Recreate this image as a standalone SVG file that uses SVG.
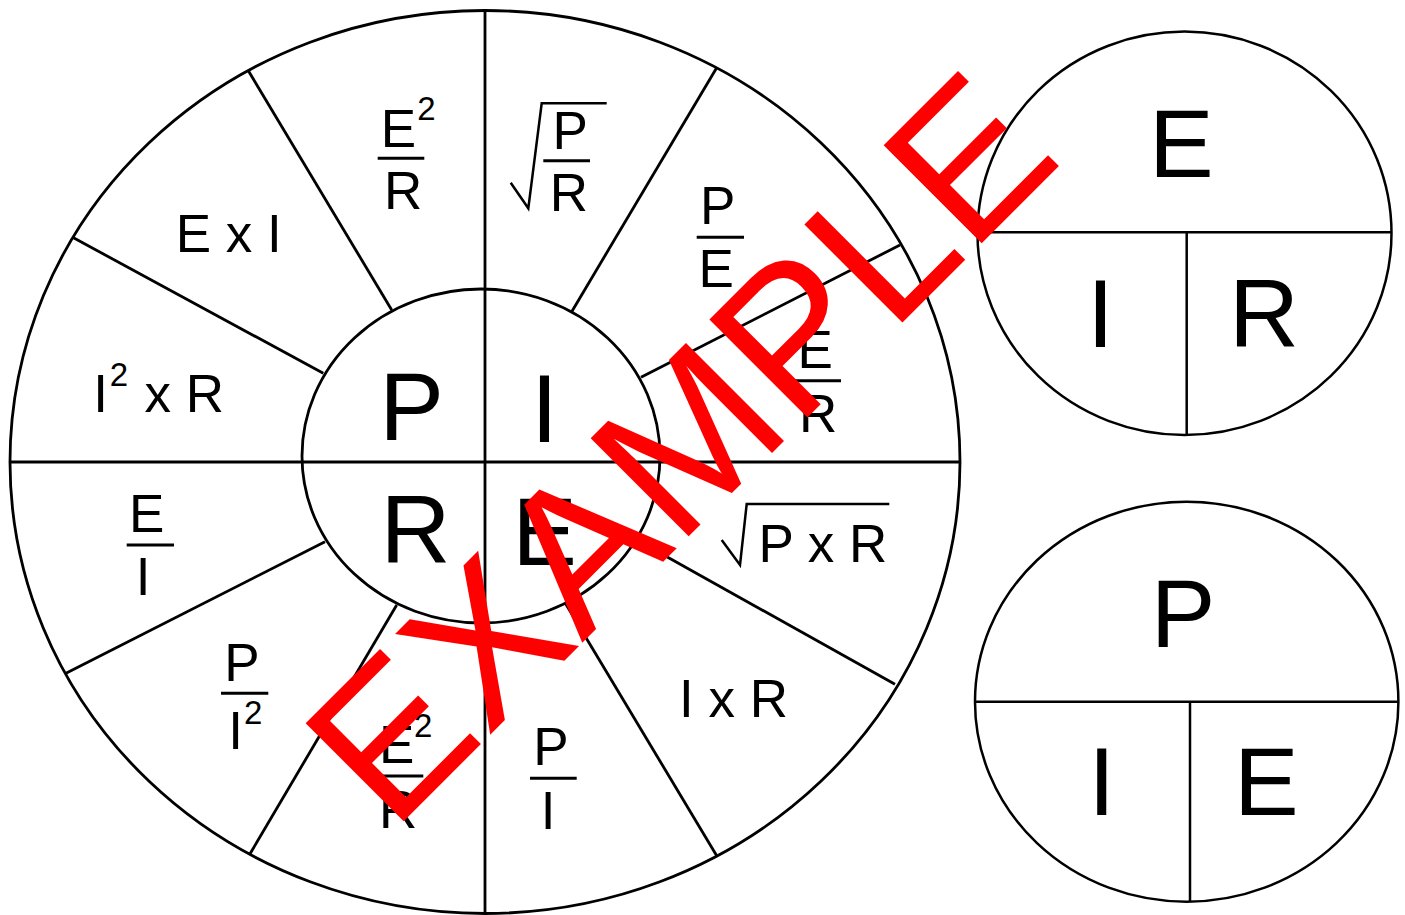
<svg xmlns="http://www.w3.org/2000/svg" width="1405" height="915" viewBox="0 0 1405 915">
<style>
.ln{fill:none;stroke:#000;stroke-width:2.8}
.sm{fill:none;stroke:#000;stroke-width:2.5}
.bar{stroke:#000;stroke-width:3}
.t{font-family:"Liberation Sans",Arial,sans-serif;fill:#000;font-size:53px}
.s{font-family:"Liberation Sans",Arial,sans-serif;fill:#000;font-size:33px}
.big{font-family:"Liberation Sans",Arial,sans-serif;fill:#000;font-size:97px}
.wm{font-family:"Liberation Sans",Arial,sans-serif;fill:#ff0000;font-size:201.5px}
</style>
<rect width="1405" height="915" fill="#fff"/>
<g id="wheel">
<ellipse class="ln" cx="485" cy="462" rx="475" ry="451.5"/>
<ellipse class="ln" cx="481" cy="456" rx="179" ry="167"/>
</g>
<g id="connectors">
<line class="ln" x1="485" y1="10" x2="485" y2="913"/>
<line class="ln" x1="10" y1="462" x2="960" y2="462"/>
<line class="ln" x1="391.7" y1="310" x2="248.5" y2="71"/>
<line class="ln" x1="323.3" y1="373.3" x2="73" y2="237.5"/>
<line class="ln" x1="325" y1="541.7" x2="66" y2="673.3"/>
<line class="ln" x1="396.7" y1="605" x2="249.3" y2="855"/>
<line class="ln" x1="571.7" y1="311.7" x2="716.7" y2="67.7"/>
<line class="ln" x1="641" y1="377.3" x2="900" y2="245"/>
<line class="ln" x1="636" y1="539.5" x2="895" y2="684.3"/>
<line class="ln" x1="565.5" y1="603.5" x2="717.3" y2="856.7"/>
</g>
<g id="center-P"><text class="big" x="379.2" y="440">P</text></g>
<g id="center-I"><text class="big" x="530.9" y="441.7">I</text></g>
<g id="center-R"><text class="big" x="380.5" y="563.3">R</text></g>
<g id="center-E"><text class="big" x="512.3" y="565">E</text></g>
<g id="f-E2-R-top">
<text class="t" x="380.8" y="146.7">E</text>
<text class="s" x="417.3" y="120">2</text>
<line class="bar" x1="377.7" y1="158.3" x2="424.3" y2="158.3"/>
<text class="t" x="384.1" y="209.3">R</text>
</g>
<g id="f-sqrt-P-R">
<polyline class="sm" points="510.7,182.7 528.3,208.3 541.7,103.3 606.7,103.3"/>
<text class="t" x="552.6" y="149">P</text>
<line class="bar" x1="543.3" y1="160.7" x2="590" y2="160.7"/>
<text class="t" x="549.8" y="211">R</text>
</g>
<g id="f-P-E">
<text class="t" x="699.9" y="224">P</text>
<line class="bar" x1="696.7" y1="237.3" x2="744" y2="237.3"/>
<text class="t" x="698.5" y="287.3">E</text>
</g>
<g id="f-E-R">
<text class="t" x="797.5" y="368.3">E</text>
<line class="bar" x1="795" y1="380.7" x2="841" y2="380.7"/>
<text class="t" x="799.1" y="432.3">R</text>
</g>
<g id="f-sqrt-PxR">
<polyline class="sm" points="721.7,540 740,565 746.7,504 889.3,504"/>
<text class="t" x="758.6" y="561.7" xml:space="preserve">P x R</text>
</g>
<g id="f-IxR"><text class="t" x="679" y="717.3" xml:space="preserve">I x R</text></g>
<g id="f-P-I">
<text class="t" x="533.2" y="765">P</text>
<line class="bar" x1="530" y1="778.3" x2="576.7" y2="778.3"/>
<text class="t" x="540.7" y="829.3">I</text>
</g>
<g id="f-E2-R-bottom">
<text class="t" x="379.1" y="763.3">E</text>
<text class="s" x="414" y="737.3">2</text>
<line class="bar" x1="381.7" y1="776" x2="423.3" y2="776"/>
<text class="t" x="379.1" y="827.7">R</text>
</g>
<g id="f-P-I2">
<text class="t" x="224.2" y="681">P</text>
<line class="bar" x1="221" y1="693.3" x2="268.3" y2="693.3"/>
<text class="t" x="228.3" y="749.3">I</text>
<text class="s" x="244" y="724">2</text>
</g>
<g id="f-E-I">
<text class="t" x="129.1" y="532.3">E</text>
<line class="bar" x1="126.7" y1="545" x2="174" y2="545"/>
<text class="t" x="135.7" y="595">I</text>
</g>
<g id="f-I2xR">
<text class="t" x="93.3" y="411.7">I</text>
<text class="s" x="109.7" y="386">2</text>
<text class="t" x="144.5" y="411.7" xml:space="preserve">x R</text>
</g>
<g id="f-ExI"><text class="t" x="175.8" y="252.3" xml:space="preserve">E x I</text></g>
<g id="ohm-triangle">
<ellipse class="sm" cx="1184.5" cy="233.3" rx="207" ry="201.7"/>
<line class="sm" x1="977.5" y1="232.3" x2="1391.5" y2="232.3"/>
<line class="sm" x1="1186.7" y1="232.3" x2="1186.7" y2="435"/>
<text class="big" x="1149" y="177.3">E</text>
<text class="big" x="1086.9" y="346.7">I</text>
<text class="big" x="1228.9" y="346.7">R</text>
</g>
<g id="power-triangle">
<ellipse class="sm" cx="1186.7" cy="701.7" rx="211.7" ry="200"/>
<line class="sm" x1="975" y1="701.7" x2="1398.4" y2="701.7"/>
<line class="sm" x1="1190" y1="701.7" x2="1190" y2="901.7"/>
<text class="big" x="1150.8" y="646.7">P</text>
<text class="big" x="1088.2" y="815">I</text>
<text class="big" x="1234" y="815">E</text>
</g>
<g id="watermark">
<text class="wm" transform="translate(392,833) rotate(-45)">EXAMPLE</text>
</g>
</svg>
